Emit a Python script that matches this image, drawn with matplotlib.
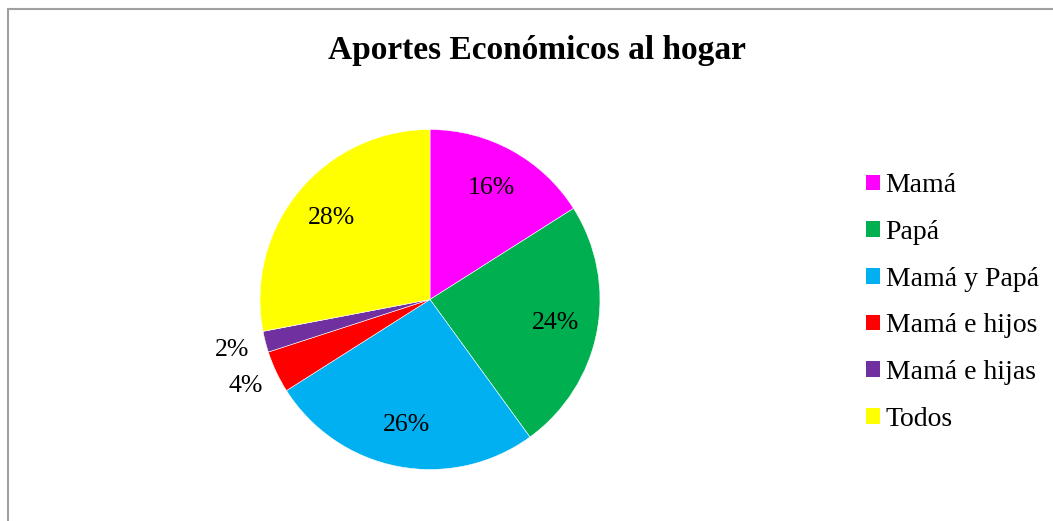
import matplotlib
matplotlib.use("Agg")
import matplotlib.pyplot as plt
import numpy as np
from matplotlib.patches import Rectangle

categories = ["Mamá", "Papá", "Mamá y Papá", "Mamá e hijos", "Mamá e hijas", "Todos"]
values = [16, 24, 26, 4, 2, 28]
colors = ["#FF00FF", "#00B050", "#00B0F0", "#FF0000", "#7030A0", "#FFFF00"]
title = "Aportes Económicos al hogar"

plt.rcParams['font.family'] = ['Liberation Serif', 'DejaVu Serif']

W, H = 1053, 521
fig = plt.figure(figsize=(W / 100, H / 100), dpi=100)
fig.patch.set_facecolor("white")

# outer chart border (only top and left visible)
fig.add_artist(Rectangle((7.5 / W, -0.1), 1.2, (H - 9) / H + 0.1, transform=fig.transFigure,
                         fill=False, edgecolor="#A0A0A0", linewidth=1.5))

cx, cy, r = 430, H - 299.5, 170
ax = fig.add_axes([(cx - r) / W, (cy - r) / H, 2 * r / W, 2 * r / H])
wedges, _ = ax.pie(values, colors=colors, startangle=90, counterclock=False,
                   radius=1.0, wedgeprops=dict(edgecolor="white", linewidth=0.4))
ax.set_xlim(-1, 1)
ax.set_ylim(-1, 1)
ax.set_aspect("equal")
ax.axis("off")

for w, v in zip(wedges, values):
    ang = np.deg2rad((w.theta1 + w.theta2) / 2)
    if v < 5:
        d = 1.2
    else:
        d = 0.75
    ax.text(d * np.cos(ang), d * np.sin(ang), f"{v}%", ha="center", va="center",
            fontsize=18.5, color="black", clip_on=False)

fig.text(537 / W, 1 - 51 / H, title, ha="center", va="center", fontsize=24, fontweight="bold")

leg = fig.legend(wedges, categories, loc="center left",
                 bbox_to_anchor=(855 / W, (H - 302.5) / H), frameon=False,
                 fontsize=20, handlelength=0.5, handleheight=0.5, handletextpad=0.2,
                 labelspacing=0.78, borderaxespad=0)
for h in leg.legend_handles:
    h.set_edgecolor("none")

fig.savefig("out.png", dpi=100)
